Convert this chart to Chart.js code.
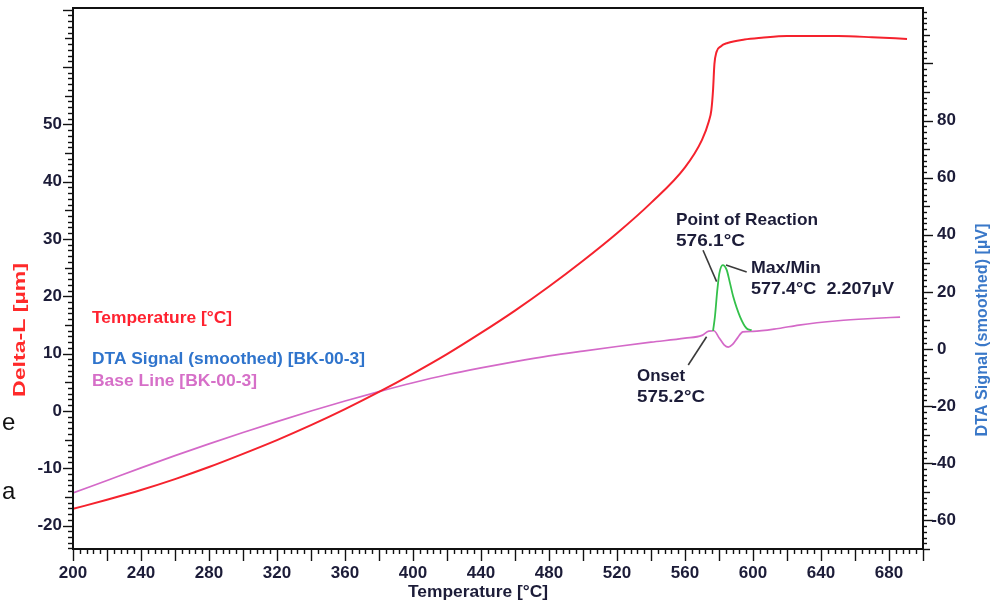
<!DOCTYPE html>
<html><head><meta charset="utf-8">
<script src="https://cdn.jsdelivr.net/npm/chart.js@4.4.1/dist/chart.umd.min.js"></script>
<style>html,body{margin:0;padding:0;background:#fff;}#wrap{width:1001px;height:601px;position:relative}</style>
</head><body><div id="wrap"><canvas id="c" width="1001" height="601"></canvas></div>
<script>
// ---- data ----
const tempX  = [200,220,240,260,280,300,320,340,360,380,400,420,440,460,480,500,520,540,560,570,574,575.5,576.5,577.3,578.5,581,585,595,605,620,650,670,690.6];
const deltaL = [-17.1,-15.5,-13.8,-11.9,-9.8,-7.5,-5.1,-2.5,0.3,3.3,6.5,9.9,13.6,17.5,21.7,26.2,31.0,36.3,42.5,47.3,50.5,52.5,56,60.5,62.6,63.6,64.2,64.8,65.1,65.4,65.4,65.2,64.9];

const baseX    = [200,220,240,260,280,300,320,340,360,380,400,420,440,460,480,500,520,540,560,570,574,577,580,583,585.5,588,591,594,600,615,627,650,670,686.5];
const baseLine = [-50.4,-46.0,-41.6,-37.3,-33.2,-29.2,-25.4,-21.7,-18.2,-14.9,-11.8,-9.0,-6.6,-4.4,-2.4,-0.7,0.9,2.4,3.8,4.8,6.3,6.4,4.0,1.5,0.7,1.6,4.0,6.0,6.2,7.2,8.4,9.9,10.7,11.2];

const dtaX      = [576.5,577.6,579,580.2,582.2,584.5,586.5,588.4,592.4,596.3,599.2];
const dtaSignal = [6.4,11.3,20.6,26.5,29.4,27.7,23,18.3,11.3,7.2,6.6];

const xTickLabels     = [200,240,280,320,360,400,440,480,520,560,600,640,680];
const leftTickLabels  = [-20,-10,0,10,20,30,40,50];
const rightTickLabels = [-60,-40,-20,0,20,40,60,80];

const legendLabels = ['Temperature [°C]','DTA Signal (smoothed) [BK-00-3]','Base Line [BK-00-3]'];
const legendColors = ['#ff2230','#2f74cc','#d66fc8'];

// annotation texts anchored at (temperature, DTA µV)
const noteTexts = [['Point of Reaction','576.1°C'],['Max/Min','577.4°C  2.207µV'],['Onset','575.2°C']];
const noteAnchors = [[554.7,45.2],[598.8,28.4],[531.8,-9.5]];
// leader lines (temperature, DTA µV)
const leaderPoR   = [[570.6,34.6],[578.6,23.6]];
const leaderMax   = [[584.1,29.4],[596.3,27.0]];
const leaderOnset = [[572.7,4.3],[561.9,-5.6]];

const FONT = '"Liberation Sans", Arial, sans-serif';
const INK = '#1c1c38';
function toXY(xs, ys){ return xs.map((v,i)=>({x:v,y:ys[i]})); }
function pairs(p){ return p.map(q=>({x:q[0],y:q[1]})); }

function txt(ctx, s, x, y, o){
  o = Object.assign({size:17,color:INK,align:'left',w:null,bold:true,rot:0}, o||{});
  ctx.save();
  ctx.font = (o.bold?'bold ':'') + o.size + 'px ' + FONT;
  ctx.fillStyle = o.color; ctx.textBaseline = 'middle'; ctx.textAlign='left';
  const m = ctx.measureText(s).width;
  const sx = o.w ? o.w/m : 1;
  const tw = m*sx;
  ctx.translate(x, y);
  if (o.rot) ctx.rotate(o.rot);
  const ax = o.align==='left' ? 0 : o.align==='right' ? -tw : -tw/2;
  ctx.translate(ax, 0);
  ctx.scale(sx, 1);
  ctx.fillText(s, 0, 0);
  ctx.restore();
}

const decor = {
  id:'decor',
  afterDraw(chart){
    const {ctx, chartArea:a, scales:{x, y, y1}} = chart;
    ctx.save();
    ctx.strokeStyle = '#111'; ctx.lineWidth = 1.4;
    const seg=(x0,y0,x1,y1_)=>{ctx.beginPath();ctx.moveTo(x0,y0);ctx.lineTo(x1,y1_);ctx.stroke();};
    for (let v=200; v<=700; v+=4){
      const px = Math.round(x.getPixelForValue(v))+0.5;
      seg(px, a.bottom, px, a.bottom + (v%20===0 ? 12 : 5));
    }
    for (let v=-24; v<=70; v+=1){
      const py = Math.round(y.getPixelForValue(v))+0.5;
      seg(a.left, py, a.left - (v%10===0 ? 10 : v%5===0 ? 8 : 5), py);
    }
    for (let v=-70; v<=118; v+=2){
      const py = Math.round(y1.getPixelForValue(v))+0.5;
      seg(a.right, py, a.right + (v%20===0 ? 10 : v%10===0 ? 7 : 4), py);
    }
    ctx.lineWidth = 2; ctx.strokeStyle = '#111';
    ctx.strokeRect(a.left, a.top, a.right-a.left, a.bottom-a.top);
    ctx.restore();

    xTickLabels.forEach(v=>txt(ctx, String(v), x.getPixelForValue(v), a.bottom+24, {align:'center'}));
    leftTickLabels.forEach(v=>txt(ctx, String(v), a.left-11, y.getPixelForValue(v), {align:'right'}));
    ctx.save(); ctx.font = 'bold 17px '+FONT; const mw = ctx.measureText('-').width; ctx.restore();
    rightTickLabels.forEach(v=>txt(ctx, String(v), a.right+14 - (v<0?mw:0), y1.getPixelForValue(v), {align:'left'}));

    txt(ctx, 'Temperature [°C]', 478, 592, {align:'center', w:140});
    txt(ctx, 'Delta-L [µm]', 20, 330, {align:'center', color:'#ff2a2a', rot:-Math.PI/2, w:134});
    txt(ctx, 'DTA Signal (smoothed) [µV]', 982, 330, {align:'center', color:'#3a78c8', rot:-Math.PI/2, w:213});

    const ly = [318, 359, 381];
    const lw = [140, 273, 165];
    legendLabels.forEach((s,i)=>txt(ctx, s, 92, ly[i], {color:legendColors[i], w:lw[i]}));

    const nw = [[142,69],[70,143],[48,68]];
    noteTexts.forEach((lines,i)=>{
      const px = x.getPixelForValue(noteAnchors[i][0]);
      const py = y1.getPixelForValue(noteAnchors[i][1]);
      lines.forEach((s,j)=>txt(ctx, s, px, py + j*21.5, {w:nw[i][j]}));
    });

    txt(ctx, 'e', 2, 423, {bold:false, size:24, color:'#111'});
    txt(ctx, 'a', 2, 492, {bold:false, size:24, color:'#111'});
  }
};

const lineDs = (label, data, axis, color, w, order) => ({
  label, data, yAxisID: axis, borderColor: color, backgroundColor: color,
  borderWidth: w, pointRadius: 0, fill: false, cubicInterpolationMode: 'monotone', order
});

new Chart(document.getElementById('c'), {
  type: 'line',
  data: { datasets: [
    lineDs('Temperature', toXY(tempX, deltaL), 'y', '#f5222d', 2, 1),
    lineDs('DTA Signal', toXY(dtaX, dtaSignal), 'y1', '#33c04a', 1.8, 2),
    lineDs('Base Line', toXY(baseX, baseLine), 'y1', '#d469c8', 1.7, 3),
    lineDs('leader1', pairs(leaderPoR), 'y1', '#3a3a3a', 1.6, 4),
    lineDs('leader2', pairs(leaderMax), 'y1', '#3a3a3a', 1.6, 4),
    lineDs('leader3', pairs(leaderOnset), 'y1', '#3a3a3a', 1.6, 4)
  ]},
  options: {
    responsive: false, animation: false, devicePixelRatio: 1,
    layout: { padding: { top: 8, left: 0, right: 0, bottom: 0 } },
    plugins: { legend: { display: false }, tooltip: { enabled: false } },
    scales: {
      x: { type:'linear', min:200, max:700, ticks:{display:false}, grid:{display:false}, border:{display:false},
           afterFit(s){ s.height = 52; } },
      y: { position:'left', min:-24.1, max:70.3, ticks:{display:false}, grid:{display:false}, border:{display:false},
           afterFit(s){ s.width = 73; } },
      y1:{ position:'right', min:-70, max:119.4, ticks:{display:false}, grid:{display:false}, border:{display:false},
           afterFit(s){ s.width = 78; } }
    }
  },
  plugins: [decor]
});
</script></body></html>
